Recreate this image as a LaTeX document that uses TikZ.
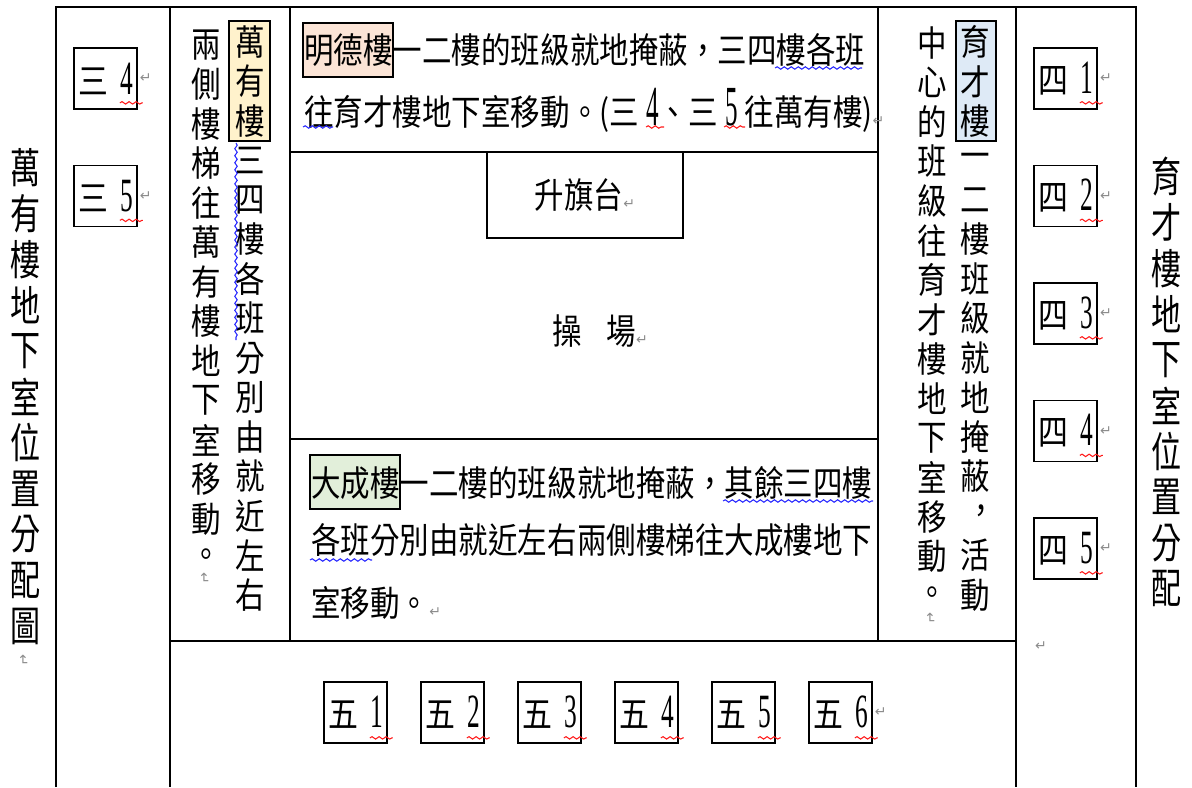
\documentclass[tikz,border=0pt]{standalone}
\usepackage{fontspec}
\setmainfont{Noto Sans CJK TC}
\newfontfamily\numfont{Liberation Serif}
\newfontfamily\markfont{DejaVu Sans}
\usetikzlibrary{positioning,decorations.pathmorphing}

\definecolor{mingde}{RGB}{251,228,214}
\definecolor{wanyou}{RGB}{255,242,204}
\definecolor{yucai}{RGB}{222,234,246}
\definecolor{dacheng}{RGB}{226,239,218}
\definecolor{markgray}{RGB}{140,140,140}
\newcommand{\tl}[1]{\scalebox{1}[1.2]{#1}}
\newcommand{\dg}[1]{{\numfont\scalebox{0.85}[1.6]{#1}}}
\newcommand{\pmark}{{\markfont\fontsize{8}{8}\selectfont\textcolor{markgray}{↵}}}
\newcommand{\vcomma}{\raisebox{0.12em}{\hspace{0.45em}，}}

\begin{document}
\begin{tikzpicture}[x=0.02cm, y=-0.02cm,
    wall/.style={line width=1pt},
    room/.style={draw, line width=1pt, minimum width=1.26cm, minimum height=1.22cm, inner sep=0pt, font=\fontsize{17}{17}\selectfont},
    txt/.style={inner sep=0pt, font=\fontsize{16.8}{18}\selectfont},
    row/.style={txt, anchor=west},
    title/.style={inner sep=0pt, font=\fontsize{19}{19}\selectfont},
    tag/.style={draw, line width=0.9pt, inner sep=0pt},
    pm/.style={inner sep=0pt},
    redwave/.style={draw=red!90, line width=0.6pt, decorate, decoration={snake, amplitude=0.7pt, segment length=4pt}},
    bluewave/.style={redwave, draw=blue!85}]
    \useasboundingbox (0,0) rectangle (1192,787);

    % Walls of the plan
    \draw[wall] (56,787) -- (56,7) -- (1136,7) -- (1136,787);
    \draw[wall] (170,7) -- (170,787);
    \draw[wall] (1016,7) -- (1016,787);
    \draw[wall] (290,7) -- (290,641);
    \draw[wall] (878,7) -- (878,641);
    \draw[wall] (170,641) -- (1016,641);
    \draw[wall] (290,152) -- (878,152);
    \draw[wall] (290,439) -- (878,439);

    % Side titles
    \foreach \ch [count=\i from 0] in {萬,有,樓,地,下,室,位,置,分,配,圖}
        \node[title] (lt\i) at (26,{168+45.8*\i}) {\scalebox{0.9}[1.25]{\ch}};
    \node[pm, rotate=-90] (ltend) at (23,660) {\pmark};
    \foreach \ch [count=\i from 0] in {育,才,樓,地,下,室,位,置,分,配}
        \node[title] (rt\i) at (1167,{177+45.7*\i}) {\scalebox{0.9}[1.25]{\ch}};

    % Third grade rooms
    \foreach \k/\y in {4/78.5, 5/196} {
        \node[room] (r3\k) at (105.5,\y) {\tl{三}\hspace{0.4em}\dg{\k}};
        \node[pm, right=1pt of r3\k] (r3\k m) {\pmark};
        \draw[redwave] ([xshift=-0.36cm,yshift=0.14cm]r3\k.south east) -- ++(0.46cm,0);
    }

    % Fourth grade rooms
    \foreach \k in {1,...,5} {
        \node[room] (r4\k) at (1065.5,{78.5+117.5*(\k-1)}) {\tl{四}\hspace{0.4em}\dg{\k}};
        \node[pm, right=1pt of r4\k] (r4\k m) {\pmark};
        \draw[redwave] ([xshift=-0.36cm,yshift=0.14cm]r4\k.south east) -- ++(0.46cm,0);
    }
    \node[pm] (r4end) at (1041,646) {\pmark};

    % Fifth grade rooms
    \foreach \k in {1,...,6} {
        \node[room] (r5\k) at ({355.5+97*(\k-1)},712.5) {\tl{五}\hspace{0.4em}\dg{\k}};
        \draw[redwave] ([xshift=-0.36cm,yshift=0.12cm]r5\k.south east) -- ++(0.46cm,0);
    }
    \node[pm, right=1pt of r56] (r5end) {\pmark};

    % Mingde building
    \node[tag, fill=mingde, minimum width=1.8cm, minimum height=1.08cm] (mdtag) at (348,50) {};
    \node[row] (md1) at (304,50) {\tl{明德樓一二樓的班級就地掩蔽，三四樓各班}};
    \node[row] (md2) at (304,110) {\tl{往育才樓地下室移動。(三\hspace{0.25em}\dg{4}、三\hspace{0.25em}\dg{5} 往萬有樓)}\pmark};
    \draw[bluewave] (775,68) -- (862,68);
    \draw[bluewave] (303,127) -- (333,127);
    \draw[redwave] (646,127) -- (664,127);
    \draw[redwave] (724,127) -- (745,127);

    % Flag platform and playground
    \node[draw, line width=1pt, minimum width=3.92cm, minimum height=1.72cm, inner sep=0pt] (flag) at (585,195)
        {\fontsize{16.8}{18}\selectfont\tl{升旗台}\pmark};
    \node[txt] (field) at (600,331) {\tl{操}\hspace{0.85em}\tl{場}\pmark};

    % Dacheng building
    \node[tag, fill=dacheng, minimum width=1.8cm, minimum height=1.08cm] (dctag) at (355,482) {};
    \node[row] (dc1) at (311,483) {\tl{大成樓一二樓的班級就地掩蔽，其餘三四樓}};
    \node[row] (dc2) at (311,540) {\tl{各班分別由就近左右兩側樓梯往大成樓地下}};
    \node[row] (dc3) at (311,603) {\tl{室移動。}\pmark};
    \draw[bluewave] (723,501) -- (873,501);
    \draw[bluewave] (310,560) -- (372,560);

    % Wanyou building column (right line first)
    \node[tag, fill=wanyou, minimum width=0.82cm, minimum height=2.4cm] (wytag) at (249.5,81) {};
    \foreach \ch [count=\i from 0] in {萬,有,樓,三,四,樓,各,班,分,別,由,就,近,左,右}
        \node[txt] (wy\i) at (250,{42+39.5*\i}) {\tl{\ch}};
    \foreach \ch [count=\i from 0] in {兩,側,樓,梯,往,萬,有,樓,地,下,室,移,動,。}
        \node[txt] (wz\i) at (206,{45+39.5*\i}) {\tl{\ch}};
    \node[pm, rotate=-90] (wzend) at (204,578) {\pmark};
    \draw[bluewave] (236,143) -- (236,340);

    % Yucai building column
    \node[tag, fill=yucai, minimum width=0.8cm, minimum height=2.4cm] (yctag) at (976,81) {};
    \foreach \ch [count=\i from 0] in {育,才,樓,一,二,樓,班,級,就,地,掩,蔽,\vcomma,活,動}
        \node[txt] (yc\i) at (975,{42+39.5*\i}) {\tl{\ch}};
    \foreach \ch [count=\i from 0] in {中,心,的,班,級,往,育,才,樓,地,下,室,移,動,。}
        \node[txt] (yd\i) at (932,{43+39.5*\i}) {\tl{\ch}};
    \node[pm, rotate=-90] (ydend) at (930,618) {\pmark};
\end{tikzpicture}
\end{document}
